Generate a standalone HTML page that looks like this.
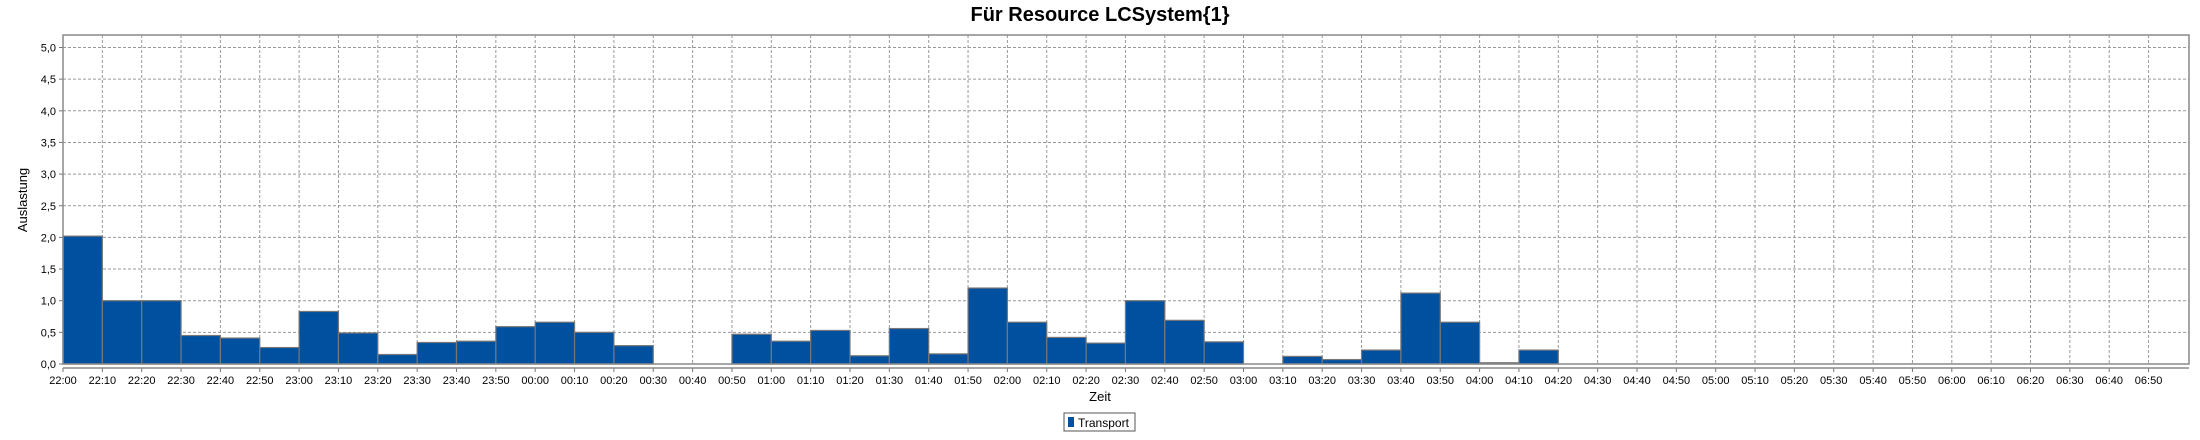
<!DOCTYPE html>
<html><head><meta charset="utf-8"><style>
body{margin:0;background:#fff;font-family:"Liberation Sans","DejaVu Sans",sans-serif;}
svg text{font-family:"Liberation Sans","DejaVu Sans",sans-serif;}
</style></head><body>
<svg id="chart" width="2200" height="435" xmlns="http://www.w3.org/2000/svg">
<text x="1100" y="21" text-anchor="middle" font-size="20" font-weight="bold" font-family="DejaVu Sans, sans-serif">Für Resource LCSystem{1}</text>
<g id="grid"></g><g id="bars"></g><g id="axes"></g>
<text transform="translate(27,200) rotate(-90)" text-anchor="middle" font-size="13">Auslastung</text>
<text x="1100" y="401" text-anchor="middle" font-size="13">Zeit</text>
<g>
<rect x="1064" y="413" width="71" height="18" fill="#fff" stroke="#555"/>
<rect x="1068" y="417" width="6" height="10" fill="#0050a0"/>
<text x="1078" y="427" font-size="12">Transport</text>
</g>
</svg>
<script>
const categories=["22:00","22:10","22:20","22:30","22:40","22:50","23:00","23:10","23:20","23:30","23:40","23:50","00:00","00:10","00:20","00:30","00:40","00:50","01:00","01:10","01:20","01:30","01:40","01:50","02:00","02:10","02:20","02:30","02:40","02:50","03:00","03:10","03:20","03:30","03:40","03:50","04:00","04:10","04:20","04:30","04:40","04:50","05:00","05:10","05:20","05:30","05:40","05:50","06:00","06:10","06:20","06:30","06:40","06:50"];
const transport=[2.02,1.0,1.0,0.45,0.41,0.26,0.83,0.49,0.15,0.34,0.36,0.59,0.66,0.5,0.29,0,0,0.47,0.36,0.53,0.13,0.56,0.16,1.2,0.66,0.42,0.33,1.0,0.69,0.35,0,0.12,0.07,0.22,1.12,0.66,0.02,0.22];
const yTicks=["0,0","0,5","1,0","1,5","2,0","2,5","3,0","3,5","4,0","4,5","5,0"];
const yMax=5.0;
const L=63,R=2189,T=35,B=364,step=39.35,y5=47.5;
const ns="http://www.w3.org/2000/svg";
function X(i){return L+i*step;}
function Y(v){return B-(B-y5)*v/yMax;}
function mk(t,a,p){const e=document.createElementNS(ns,t);for(const k in a)e.setAttribute(k,a[k]);p.appendChild(e);return e;}
const grid=document.getElementById('grid'),bars=document.getElementById('bars'),axes=document.getElementById('axes');
yTicks.forEach((lab,i)=>{const v=i*0.5,y=Y(v);
 const g=mk('line',{x1:L,x2:R,y1:y,y2:y,stroke:'#999','stroke-dasharray':'3,2'},grid);
 
 
 const t=mk('text',{x:L-7,y:y+4,'text-anchor':'end','font-size':'11'},axes);t.textContent=lab;
 
 
 mk('line',{x1:L-4,x2:L,y1:y,y2:y,stroke:'#777'},axes);
});
categories.forEach((c,i)=>{const x=X(i);
 const g=mk('line',{x1:x,x2:x,y1:T,y2:B,stroke:'#999','stroke-dasharray':'3,2'},grid);
 
 
 mk('line',{x1:x,x2:x,y1:368,y2:372,stroke:'#777'},axes);
 const t=mk('text',{x:x,y:384,'text-anchor':'middle','font-size':'11'},axes);t.textContent=c;
 
 
});
transport.forEach((v,i)=>{if(v<=0)return;const y=Y(v);
 const r=mk('rect',{x:X(i),y:y,width:step,height:B-y,fill:'#0050a0',stroke:'#777','stroke-width':1.2},bars);
 
 
});
mk('rect',{x:L,y:T,width:R-L,height:B-T,fill:'none',stroke:'#888','stroke-width':1.5},axes);
mk('line',{x1:L,x2:R,y1:368,y2:368,stroke:'#888','stroke-width':1.5},axes);
</script>
</body></html>
